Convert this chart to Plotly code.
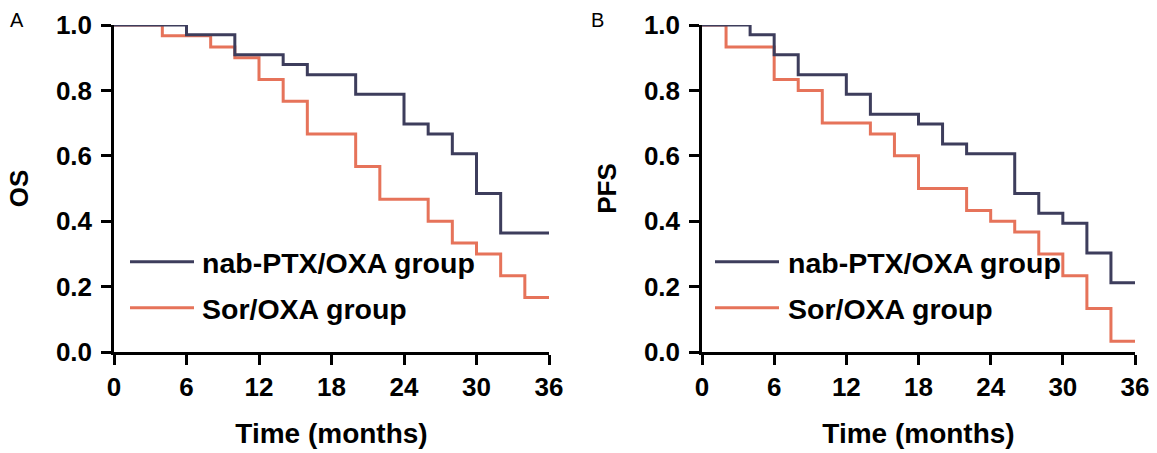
import plotly.graph_objects as go

# ---- data ----
os_nab_time = [0, 6, 10, 14, 16, 20, 24, 26, 28, 30, 32, 36]
os_nab_surv = [1.0, 0.970, 0.909, 0.879, 0.848, 0.788, 0.697, 0.667, 0.606, 0.485, 0.364, 0.364]
os_sor_time = [0, 4, 8, 10, 12, 14, 16, 20, 22, 26, 28, 30, 32, 34, 36]
os_sor_surv = [1.0, 0.967, 0.933, 0.900, 0.833, 0.767, 0.667, 0.567, 0.467, 0.400, 0.333, 0.300, 0.233, 0.167, 0.167]

pfs_nab_time = [0, 4, 6, 8, 12, 14, 18, 20, 22, 26, 28, 30, 32, 34, 36]
pfs_nab_surv = [1.0, 0.970, 0.909, 0.848, 0.788, 0.727, 0.697, 0.636, 0.606, 0.485, 0.424, 0.394, 0.303, 0.212, 0.212]
pfs_sor_time = [0, 2, 6, 8, 10, 14, 16, 18, 22, 24, 26, 28, 30, 32, 34, 36]
pfs_sor_surv = [1.0, 0.933, 0.833, 0.800, 0.700, 0.667, 0.600, 0.500, 0.433, 0.400, 0.367, 0.300, 0.233, 0.133, 0.033, 0.033]

group_names = ["nab-PTX/OXA group", "Sor/OXA group"]
x_ticks = [0, 6, 12, 18, 24, 30, 36]
y_ticks = [0.0, 0.2, 0.4, 0.6, 0.8, 1.0]
panel_labels = ["A", "B"]
y_titles = ["OS", "PFS"]
x_title = "Time (months)"

# ---- style ----
NAVY = "#3d3d5c"
ORANGE = "#e6735a"
FONT = "Liberation Sans, Arial, sans-serif"
W, H = 1157, 453
ML, MR, MT, MB = 114, 22, 25, 101
PW = W - ML - MR
PH = H - MT - MB

def px_x(p):
    return (p - ML) / PW

def px_y(p):
    return (H - MB - p) / PH

domA = [0, px_x(549)]
domB = [px_x(702), 1]

fig = go.Figure()

panels = [
    ("x", "y", os_sor_time, os_sor_surv, os_nab_time, os_nab_surv),
    ("x2", "y2", pfs_sor_time, pfs_sor_surv, pfs_nab_time, pfs_nab_surv),
]
for xa, ya, st, ss, nt, ns in panels:
    fig.add_trace(go.Scatter(x=st, y=ss, mode="lines", line=dict(color=ORANGE, width=3, shape="hv"),
                             xaxis=xa, yaxis=ya, showlegend=False, name=group_names[1]))
    fig.add_trace(go.Scatter(x=nt, y=ns, mode="lines", line=dict(color=NAVY, width=3, shape="hv"),
                             xaxis=xa, yaxis=ya, showlegend=False, name=group_names[0]))

axis_common = dict(
    showgrid=False, zeroline=False, showline=True, linecolor="black", linewidth=2.5,
    ticks="outside", ticklen=10, tickwidth=2.5, tickcolor="black", automargin=False,
    tickfont=dict(family=FONT, size=26, color="black", weight="bold"),
)
xtitle_font = dict(family=FONT, size=28, color="black", weight="bold")
ytitle_font = dict(family=FONT, size=26, color="black", weight="bold")

fig.update_layout(
    width=W, height=H,
    margin=dict(l=ML, r=MR, t=MT, b=MB, autoexpand=False),
    paper_bgcolor="white", plot_bgcolor="white",
    xaxis=dict(domain=domA, range=[0, 36], tickvals=x_ticks, anchor="y",
               title=dict(text=x_title, font=xtitle_font, standoff=23), **axis_common),
    yaxis=dict(domain=[0, 1], range=[0, 1], tickvals=y_ticks, tickformat=".1f", anchor="x",
               ticklabelstandoff=4,
               title=dict(text=y_titles[0], font=ytitle_font, standoff=20), **axis_common),
    xaxis2=dict(domain=domB, range=[0, 36], tickvals=x_ticks, anchor="y2",
                title=dict(text=x_title, font=xtitle_font, standoff=23), **axis_common),
    yaxis2=dict(domain=[0, 1], range=[0, 1], tickvals=y_ticks, tickformat=".1f", anchor="x2",
                ticklabelstandoff=4,
                title=dict(text=y_titles[1], font=ytitle_font, standoff=20), **axis_common),
)

# legends drawn inside each panel
legend_rows = [(group_names[0], NAVY, 261.7), (group_names[1], ORANGE, 307.7)]
legend_px = [(130, 194, 200, "x domain"), (715, 779, 786, "x2 domain")]
doms = [domA, domB]
for (x0p, x1p, xtp, xref), dom in zip(legend_px, doms):
    left = ML + dom[0] * PW
    width = (dom[1] - dom[0]) * PW
    for name, col, ypx in legend_rows:
        fig.add_shape(type="line", xref=xref, yref="paper",
                      x0=(x0p - left) / width, x1=(x1p - left) / width,
                      y0=px_y(ypx), y1=px_y(ypx), line=dict(color=col, width=3))
        fig.add_annotation(xref=xref, yref="paper", x=(xtp - left) / width, y=px_y(ypx + 1),
                           text=name, showarrow=False, xanchor="left", yanchor="middle",
                           font=dict(family=FONT, size=28.5, color="black", weight="bold"))

for lab, xpx in zip(panel_labels, [8, 589]):
    fig.add_annotation(xref="paper", yref="paper", x=px_x(xpx), y=px_y(7), text=lab,
                       showarrow=False, xanchor="left", yanchor="top",
                       font=dict(family=FONT, size=20, color="black"))

fig.write_html("out.html", config={"displayModeBar": False},
               post_script="document.body.style.margin='0';document.body.style.overflow='hidden';")
